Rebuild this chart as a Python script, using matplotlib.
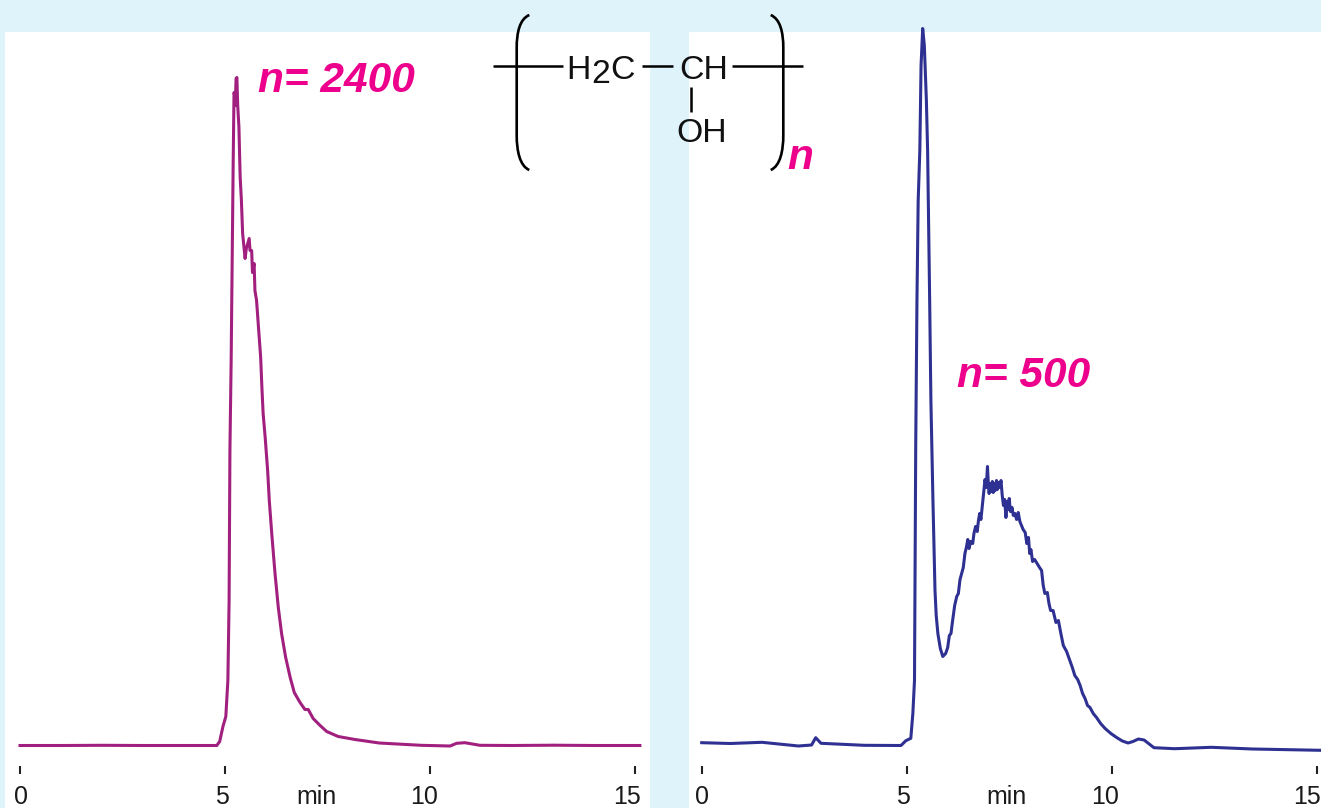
"""Two chromatograms of polyvinyl alcohol (n=2400, n=500) with the repeat unit on top."""

import matplotlib
matplotlib.use("Agg")
import matplotlib.pyplot as plt
from matplotlib.path import Path as MplPath
from matplotlib.patches import PathPatch
from matplotlib.transforms import ScaledTranslation

plt.rcParams["font.family"] = ["Liberation Sans", "DejaVu Sans"]

BG = "#DFF3FA"
PINK = "#EC008C"
PURPLE = "#A1207F"
BLUE = "#2E3192"

W, H = 1321, 808

# retention time (min) and detector signal (arbitrary units, baseline about 0)
time_2400 = [0, 1.0, 2.0, 3.0, 4.0, 4.80, 4.87, 4.95, 5.02, 5.07,
             5.10, 5.12, 5.15, 5.20, 5.22, 5.24, 5.25, 5.27, 5.29, 5.31,
             5.34, 5.37, 5.40, 5.43, 5.49, 5.52, 5.59, 5.61, 5.65, 5.67,
             5.71, 5.73, 5.77, 5.81, 5.87, 5.90, 5.93, 5.98, 6.04, 6.08,
             6.14, 6.22, 6.30, 6.38, 6.48, 6.59, 6.69, 6.83, 6.95, 7.03,
             7.15, 7.32, 7.48, 7.76, 8.17, 8.76, 9.78, 10.49, 10.65, 10.85,
             11.22, 12.0, 13.0, 14.0, 15.12]
signal_2400 = [0, 0, 0.2, 0, 0, 0, 4, 19, 29, 65,
               145, 295, 385, 585, 653, 650, 640, 667, 668, 640,
               618, 568, 545, 512, 487, 497, 507, 495, 495, 473,
               482, 455, 445, 422, 388, 358, 332, 308, 275, 245,
               212, 172, 138, 112, 88, 68, 53, 43, 36, 36,
               27, 20, 14, 9, 6, 2.5, 0.2, -0.5, 2.2, 2.8,
               0.2, 0, 0.3, 0, 0]

time_500 = [0, 0.7, 1.47, 2.36, 2.68, 2.78, 2.91, 3.96, 4.86, 4.98,
            5.10, 5.15, 5.19, 5.22, 5.25, 5.28, 5.32, 5.35, 5.39, 5.43,
            5.48, 5.51, 5.56, 5.59, 5.64, 5.69, 5.72, 5.76, 5.82, 5.88,
            5.95, 6.00, 6.04, 6.08, 6.12, 6.17, 6.22, 6.26, 6.30, 6.34,
            6.38, 6.42, 6.46, 6.49, 6.52, 6.56, 6.61, 6.64, 6.68, 6.72,
            6.75, 6.78, 6.81, 6.83, 6.86, 6.89, 6.91, 6.94, 6.97, 6.99,
            7.01, 7.04, 7.06, 7.09, 7.11, 7.14, 7.16, 7.19, 7.21, 7.24,
            7.27, 7.30, 7.33, 7.36, 7.39, 7.42, 7.45, 7.48, 7.50, 7.53,
            7.57, 7.60, 7.64, 7.68, 7.72, 7.76, 7.80, 7.84, 7.89, 7.93,
            7.97, 8.00, 8.03, 8.07, 8.12, 8.18, 8.24, 8.29, 8.33, 8.37,
            8.43, 8.47, 8.51, 8.57, 8.64, 8.70, 8.76, 8.82, 8.90, 8.98,
            9.04, 9.10, 9.17, 9.23, 9.29, 9.35, 9.41, 9.47, 9.55, 9.63,
            9.73, 9.84, 9.98, 10.12, 10.26, 10.40, 10.52, 10.65, 10.79, 11.03,
            11.54, 12.43, 13.43, 15.1]
signal_500 = [2.8, 2, 3.2, -0.5, 0.5, 7.8, 2.2, 0.2, 0, 4.8,
              7.2, 32, 65, 300, 445, 545, 595, 680, 717, 700,
              645, 595, 445, 345, 245, 155, 130, 112, 97, 89,
              92, 98, 110, 112, 125, 140, 149, 152, 166, 172,
              178, 192, 199, 206, 197, 204, 202, 212, 219, 214,
              225, 232, 226, 234, 245, 258, 266, 258, 279, 262,
              252, 262, 254, 264, 253, 262, 255, 265, 256, 263,
              258, 265, 250, 240, 246, 228, 244, 236, 247, 234,
              238, 230, 232, 226, 233, 224, 220, 216, 213, 202,
              208, 192, 196, 184, 186, 182, 178, 175, 160, 152,
              153, 142, 135, 135, 123, 125, 112, 100, 94, 85,
              78, 70, 66, 60, 52, 47, 40, 38, 32, 28,
              22, 17, 12, 8, 4.5, 2.5, 4, 6.5, 5.5, -2.2,
              -3.2, -1.8, -3.5, -4.8]

tick_values = [0, 5, 10, 15]
tick_labels = ["0", "5", "10", "15"]
label_shift_2400 = [1, -3, -6, -8]   # px, labels sit left of their ticks
label_shift_500 = [0, -4, -7, -10]

fig = plt.figure(figsize=(W / 100, H / 100), dpi=100, facecolor=BG)


def panel(left_px, right_px, xlim, t, s, color, shifts, min_x, note, note_x, note_y):
    ax = fig.add_axes([left_px / W, 0, (right_px - left_px) / W, (H - 32) / H])
    ax.plot(t, s, color=color, lw=2.2, solid_joinstyle="round", clip_on=False)
    ax.set_xlim(*xlim)
    ax.set_ylim(-62.5, 713.5)
    ax.set_yticks([])
    for side in ["left", "right", "top", "bottom"]:
        ax.spines[side].set_visible(False)
    ax.spines["bottom"].set_position(("data", -28))
    ax.set_xticks(tick_values)
    ax.set_xticklabels(tick_labels, fontsize=18)
    ax.tick_params(axis="x", direction="in", length=6, width=1.5, pad=8, color="#222222",
                   labelcolor="#1a1a1a")
    for lab, dx in zip(ax.get_xticklabels(), shifts):
        lab.set_transform(lab.get_transform() + ScaledTranslation(dx / 100, 0, fig.dpi_scale_trans))
    ax.text(min_x, 804, "min", fontsize=18, color="#1a1a1a", ha="center", va="baseline",
            transform=over.transData)
    ax.text(note_x, note_y, note, fontsize=30.5, color=PINK, weight="bold", style="italic",
            ha="left", va="baseline", transform=over.transData)
    return ax


# overlay in picture pixels, for the formula and the free labels
over = fig.add_axes([0, 0, 1, 1], zorder=5)
over.set_xlim(0, W)
over.set_ylim(H, 0)
over.axis("off")

panel(5, 650, (-0.366, 15.366), time_2400, signal_2400, PURPLE, label_shift_2400,
      316, "n= 2400", 258, 92)
panel(689, 1321, (-0.31, 15.105), time_500, signal_500, BLUE, label_shift_500,
      1006, "n= 500", 957, 387)

# repeat unit: bonds
bonds = [((493.3, 563.3), (66, 66)), ((642, 673), (66, 66)),
         ((732, 803), (66, 66)), ((691.3, 691.3), (87, 112))]
for xs, ys in bonds:
    over.plot(xs, ys, color="black", lw=1.8, solid_capstyle="butt")

# repeat unit: brackets
for tip, side in [(529.3, 516.7), (770.7, 783.3)]:
    verts = [(tip, 15), (side + (tip - side) * 0.25, 19), (side, 32), (side, 48),
             (side, 135), (side, 151), (side + (tip - side) * 0.25, 166), (tip, 170)]
    codes = [MplPath.MOVETO, MplPath.CURVE4, MplPath.CURVE4, MplPath.CURVE4,
             MplPath.LINETO, MplPath.CURVE4, MplPath.CURVE4, MplPath.CURVE4]
    over.add_patch(PathPatch(MplPath(verts, codes), fc="none", ec="black", lw=1.9))

# repeat unit: atoms
atom_size = 24.3
over.text(566, 79, "H", fontsize=atom_size, ha="left", va="baseline", color="#111111")
over.text(591.5, 83, "2", fontsize=atom_size, ha="left", va="baseline", color="#111111")
over.text(610.5, 79, "C", fontsize=atom_size, ha="left", va="baseline", color="#111111")
over.text(679, 79, "CH", fontsize=atom_size, ha="left", va="baseline", color="#111111")
over.text(676, 142, "OH", fontsize=atom_size, ha="left", va="baseline", color="#111111")
over.text(787, 169, "n", fontsize=30.5, color=PINK, weight="bold", style="italic",
          ha="left", va="baseline")

fig.savefig("out.png", dpi=100, facecolor=BG)
